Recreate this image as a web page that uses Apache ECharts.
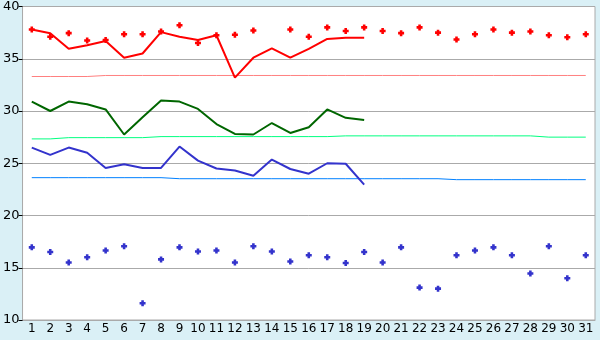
<!DOCTYPE html>
<html>
<head>
<meta charset="utf-8">
<script src="https://cdn.jsdelivr.net/npm/echarts@6/dist/echarts.min.js"></script>
<style>
html,body{margin:0;padding:0;background:#daf0f6;}
#chart{width:600px;height:340px;}
</style>
</head>
<body>
<div id="chart"></div>
<script>
var days = [];
for (var d = 1; d <= 31; d++) days.push(String(d));

var redLine = [37.8,37.45,35.95,36.3,36.7,35.1,35.5,37.55,37.1,36.8,37.25,33.2,35.1,36.0,35.1,35.95,36.9,37.0,37.0];
var redDots = [37.8,37.1,37.45,36.75,36.8,37.35,37.35,37.6,38.2,36.5,37.25,37.3,37.7,null,37.8,37.1,38.0,37.65,38.0,37.65,37.45,38.0,37.5,36.85,37.35,37.8,37.5,37.6,37.25,37.05,37.35];
var pinkLine = [33.3,33.3,33.3,33.3,33.4,33.4,33.4,33.4,33.4,33.4,33.4,33.4,33.4,33.4,33.4,33.4,33.4,33.4,33.4,33.4,33.4,33.4,33.4,33.4,33.4,33.4,33.4,33.4,33.4,33.4,33.4];
var greenLine = [30.9,30.0,30.9,30.65,30.15,27.75,29.4,31.0,30.9,30.2,28.75,27.8,27.75,28.85,27.9,28.45,30.15,29.35,29.15];
var springLine = [27.33,27.33,27.45,27.45,27.45,27.45,27.45,27.55,27.55,27.55,27.55,27.55,27.55,27.55,27.55,27.55,27.55,27.62,27.62,27.62,27.62,27.62,27.62,27.62,27.62,27.62,27.62,27.62,27.5,27.5,27.5];
var blueLine = [26.5,25.8,26.5,26.0,24.55,24.9,24.55,24.55,26.6,25.25,24.5,24.3,23.8,25.35,24.45,24.0,25.0,24.95,22.95];
var skyLine = [23.62,23.62,23.62,23.62,23.62,23.62,23.62,23.62,23.52,23.52,23.52,23.52,23.52,23.52,23.52,23.52,23.52,23.52,23.52,23.52,23.52,23.52,23.52,23.43,23.43,23.43,23.43,23.43,23.43,23.43,23.43];
var blueDots = [16.95,16.5,15.5,16.0,16.65,17.05,11.6,15.8,16.95,16.55,16.65,15.5,17.05,16.55,15.6,16.2,16.0,15.45,16.5,15.5,16.95,13.1,13.0,16.2,16.65,16.95,16.2,14.45,17.05,14.0,16.2];

// chunky plus / diamond marker
var mark = 'path://M2,0H5V2H7V5H5V7H2V5H0V2H2Z';

function line(data, color, width) {
    return {
        type: 'line', data: data, symbol: 'none', silent: true,
        lineStyle: { color: color, width: width }
    };
}
function dots(data, color) {
    return {
        type: 'line', data: data, symbol: mark, symbolSize: 6, silent: true,
        showAllSymbol: true,
        lineStyle: { width: 0, opacity: 0 },
        itemStyle: { color: color }
    };
}

var myChart = echarts.init(document.getElementById('chart'));
myChart.setOption({
    animation: false,
    backgroundColor: '#daf0f6',
    grid: {
        left: 20, right: 5, top: 5, bottom: 20,
        show: true, backgroundColor: '#ffffff', borderColor: '#aaaaaa', borderWidth: 1
    },
    xAxis: {
        type: 'category',
        data: days,
        boundaryGap: true,
        axisLine: { lineStyle: { color: '#aaaaaa' } },
        axisTick: { alignWithLabel: true, length: 5, lineStyle: { color: '#000' } },
        axisLabel: { color: '#000', fontFamily: 'DejaVu Sans', fontSize: 12, margin: 3, interval: 0 },
        splitLine: { show: false }
    },
    yAxis: {
        type: 'value',
        min: 10, max: 40, interval: 5,
        axisLine: { show: true, lineStyle: { color: '#aaaaaa' } },
        axisTick: { show: true, length: 4, lineStyle: { color: '#000' } },
        axisLabel: { color: '#000', fontFamily: 'DejaVu Sans', fontSize: 13, margin: 3 },
        splitLine: { lineStyle: { color: '#aaaaaa' } }
    },
    series: [
        line(pinkLine, '#ff8080', 1),
        line(springLine, '#00ff80', 1),
        line(skyLine, '#0080ff', 1),
        line(redLine, '#ff0000', 2),
        line(greenLine, '#006600', 2),
        line(blueLine, '#3333cc', 2),
        dots(redDots, '#ff0000'),
        dots(blueDots, '#3333cc')
    ]
});
</script>
</body>
</html>
